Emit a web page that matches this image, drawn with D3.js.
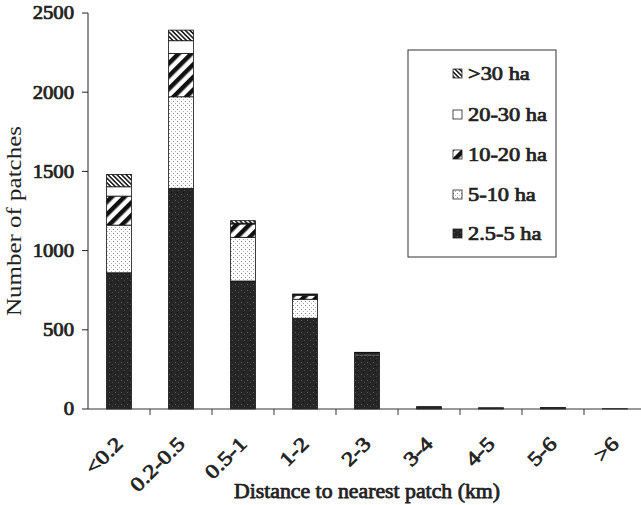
<!DOCTYPE html>
<html><head><meta charset="utf-8">
<script src="https://cdn.jsdelivr.net/npm/d3@7"></script>
<style>body{margin:0;background:#fff}svg{display:block}</style>
</head><body>
<script>
const categories = ["<0.2","0.2-0.5","0.5-1","1-2","2-3","3-4","4-5","5-6",">6"];
const seriesNames = ["2.5-5 ha","5-10 ha","10-20 ha","20-30 ha",">30 ha"];
const s2_5_5  = [860, 1393, 808, 573, 336, 15, 8, 10, 2];
const s5_10   = [301,  578, 276, 120,  10, 0, 0, 0, 0];
const s10_20  = [183,  274,  84,  25,   4, 0, 0, 0, 0];
const s20_30  = [ 59,   80,   5,   3,   5, 0, 0, 0, 0];
const s30plus = [ 78,   67,  16,   5,   3, 0, 0, 0, 0];
const yTicks = [0, 500, 1000, 1500, 2000, 2500];

const W = 641, H = 505;
const svg = d3.select("body").append("svg").attr("width", W).attr("height", H);
const defs = svg.append("defs");

const pDark = defs.append("pattern").attr("id","pDark").attr("patternUnits","userSpaceOnUse").attr("width",6).attr("height",6);
pDark.append("rect").attr("width",6).attr("height",6).attr("fill","#262626");
pDark.append("rect").attr("x",1).attr("y",2).attr("width",1).attr("height",1).attr("fill","#5a5a5a");
pDark.append("rect").attr("x",4).attr("y",4).attr("width",1).attr("height",1).attr("fill","#4a4a4a");
pDark.append("rect").attr("x",3).attr("y",0).attr("width",1).attr("height",1).attr("fill","#111");

const pDot = defs.append("pattern").attr("id","pDot").attr("patternUnits","userSpaceOnUse").attr("width",4).attr("height",4);
pDot.append("rect").attr("width",4).attr("height",4).attr("fill","#fff");
pDot.append("rect").attr("x",1).attr("y",1).attr("width",1).attr("height",1).attr("fill","#888");
pDot.append("rect").attr("x",3).attr("y",3).attr("width",1).attr("height",1).attr("fill","#aaa");

const pHatch = defs.append("pattern").attr("id","pHatch").attr("patternUnits","userSpaceOnUse").attr("width",9).attr("height",9).attr("patternTransform","rotate(45)");
pHatch.append("rect").attr("width",9).attr("height",9).attr("fill","#fff");
pHatch.append("rect").attr("x",0).attr("y",0).attr("width",4.5).attr("height",9).attr("fill","#111");

const pFine = defs.append("pattern").attr("id","pFine").attr("patternUnits","userSpaceOnUse").attr("width",3.2).attr("height",3.2).attr("patternTransform","rotate(-45)");
pFine.append("rect").attr("width",3.2).attr("height",3.2).attr("fill","#fff");
pFine.append("rect").attr("x",0).attr("y",0).attr("width",1.6).attr("height",3.2).attr("fill","#222");

const fills = ["url(#pDark)","url(#pDot)","url(#pHatch)","#fff","url(#pFine)"];
const seriesData = [s2_5_5, s5_10, s10_20, s20_30, s30plus];

const x0 = 88, y0 = 409;
const x = d3.scaleBand().domain(categories).range([x0, x0 + 62*categories.length]).paddingInner(0.6).paddingOuter(0.3);
const y = d3.scaleLinear().domain([0, 2500]).range([y0, 13]);

const table = categories.map((c,i) => {
  const o = {cat:c};
  seriesNames.forEach((s,j) => o[s] = seriesData[j][i]);
  return o;
});
const stack = d3.stack().keys(seriesNames)(table);

const g = svg.append("g");
stack.forEach((layer, j) => {
  g.selectAll(null).data(layer).enter().append("rect")
    .attr("x", d => x(d.data.cat))
    .attr("width", x.bandwidth())
    .attr("y", d => y(d[1]))
    .attr("height", d => Math.max(0, y(d[0]) - y(d[1])))
    .attr("fill", fills[j])
    .attr("stroke", "#111")
    .attr("stroke-width", d => (d[1]-d[0]) > 0 ? 0.8 : 0);
});

const font = "'Liberation Serif','Times New Roman',Times,serif";
function bold(sel){ return sel.attr("font-family",font).attr("fill","#222").attr("stroke","#222").attr("stroke-width",0.75); }

// y axis
svg.append("line").attr("x1",x0).attr("x2",x0).attr("y1",13).attr("y2",y0).attr("stroke","#222").attr("stroke-width",1);
svg.selectAll(".yt").data(yTicks).enter().append("line")
  .attr("x1",x0-6).attr("x2",x0).attr("y1",d=>y(d)).attr("y2",d=>y(d)).attr("stroke","#222");
bold(svg.selectAll(".yl").data(yTicks).enter().append("text")
  .attr("transform", d => `translate(${x0-14},${y(d)}) scale(1.15,1)`)
  .attr("dy","0.35em").attr("text-anchor","end").attr("font-size",18))
  .text(d=>d);
svg.append("text").attr("transform","translate(21,221) rotate(-90)").attr("text-anchor","middle")
  .attr("font-family",font).attr("font-size",20).attr("fill","#222")
  .attr("textLength",190).attr("lengthAdjust","spacingAndGlyphs")
  .text("Number of patches");

// x axis
svg.append("line").attr("x1",x0).attr("x2",W).attr("y1",y0).attr("y2",y0).attr("stroke","#333").attr("stroke-width",1);
const step = x.step();
const bounds = d3.range(1, categories.length).map(i => x0 + i*step);
svg.selectAll(".xt").data(bounds).enter().append("line")
  .attr("x1",d=>d).attr("x2",d=>d).attr("y1",y0).attr("y2",y0+6).attr("stroke","#333");
bold(svg.selectAll(".xl").data(categories).enter().append("text")
  .attr("transform", d => `translate(${x(d)+x.bandwidth()/2+5},${y0+36}) rotate(-45) scale(1.2,1)`)
  .attr("text-anchor","end").attr("font-size",20))
  .text(d=>d);
bold(svg.append("text").attr("x",367).attr("y",498).attr("text-anchor","middle").attr("font-size",20)
  .attr("textLength",266).attr("lengthAdjust","spacingAndGlyphs"))
  .text("Distance to nearest patch (km)");

// legend
const lg = svg.append("g");
lg.append("rect").attr("x",408).attr("y",50).attr("width",148).attr("height",207)
  .attr("fill","#fff").attr("stroke","#333").attr("stroke-width",1);
const legOrder = [4,3,2,1,0];
const legY = [73,114,154,194,233];
legOrder.forEach((j,k) => {
  lg.append("rect").attr("x",453).attr("y",legY[k]-4).attr("width",9).attr("height",9)
    .attr("fill",fills[j]).attr("stroke","#222").attr("stroke-width",0.8);
  bold(lg.append("text").attr("transform",`translate(468,${legY[k]}) scale(1.18,1)`).attr("dy","0.35em")
    .attr("font-size",19))
    .text(seriesNames[j]);
});
</script>
</body></html>
